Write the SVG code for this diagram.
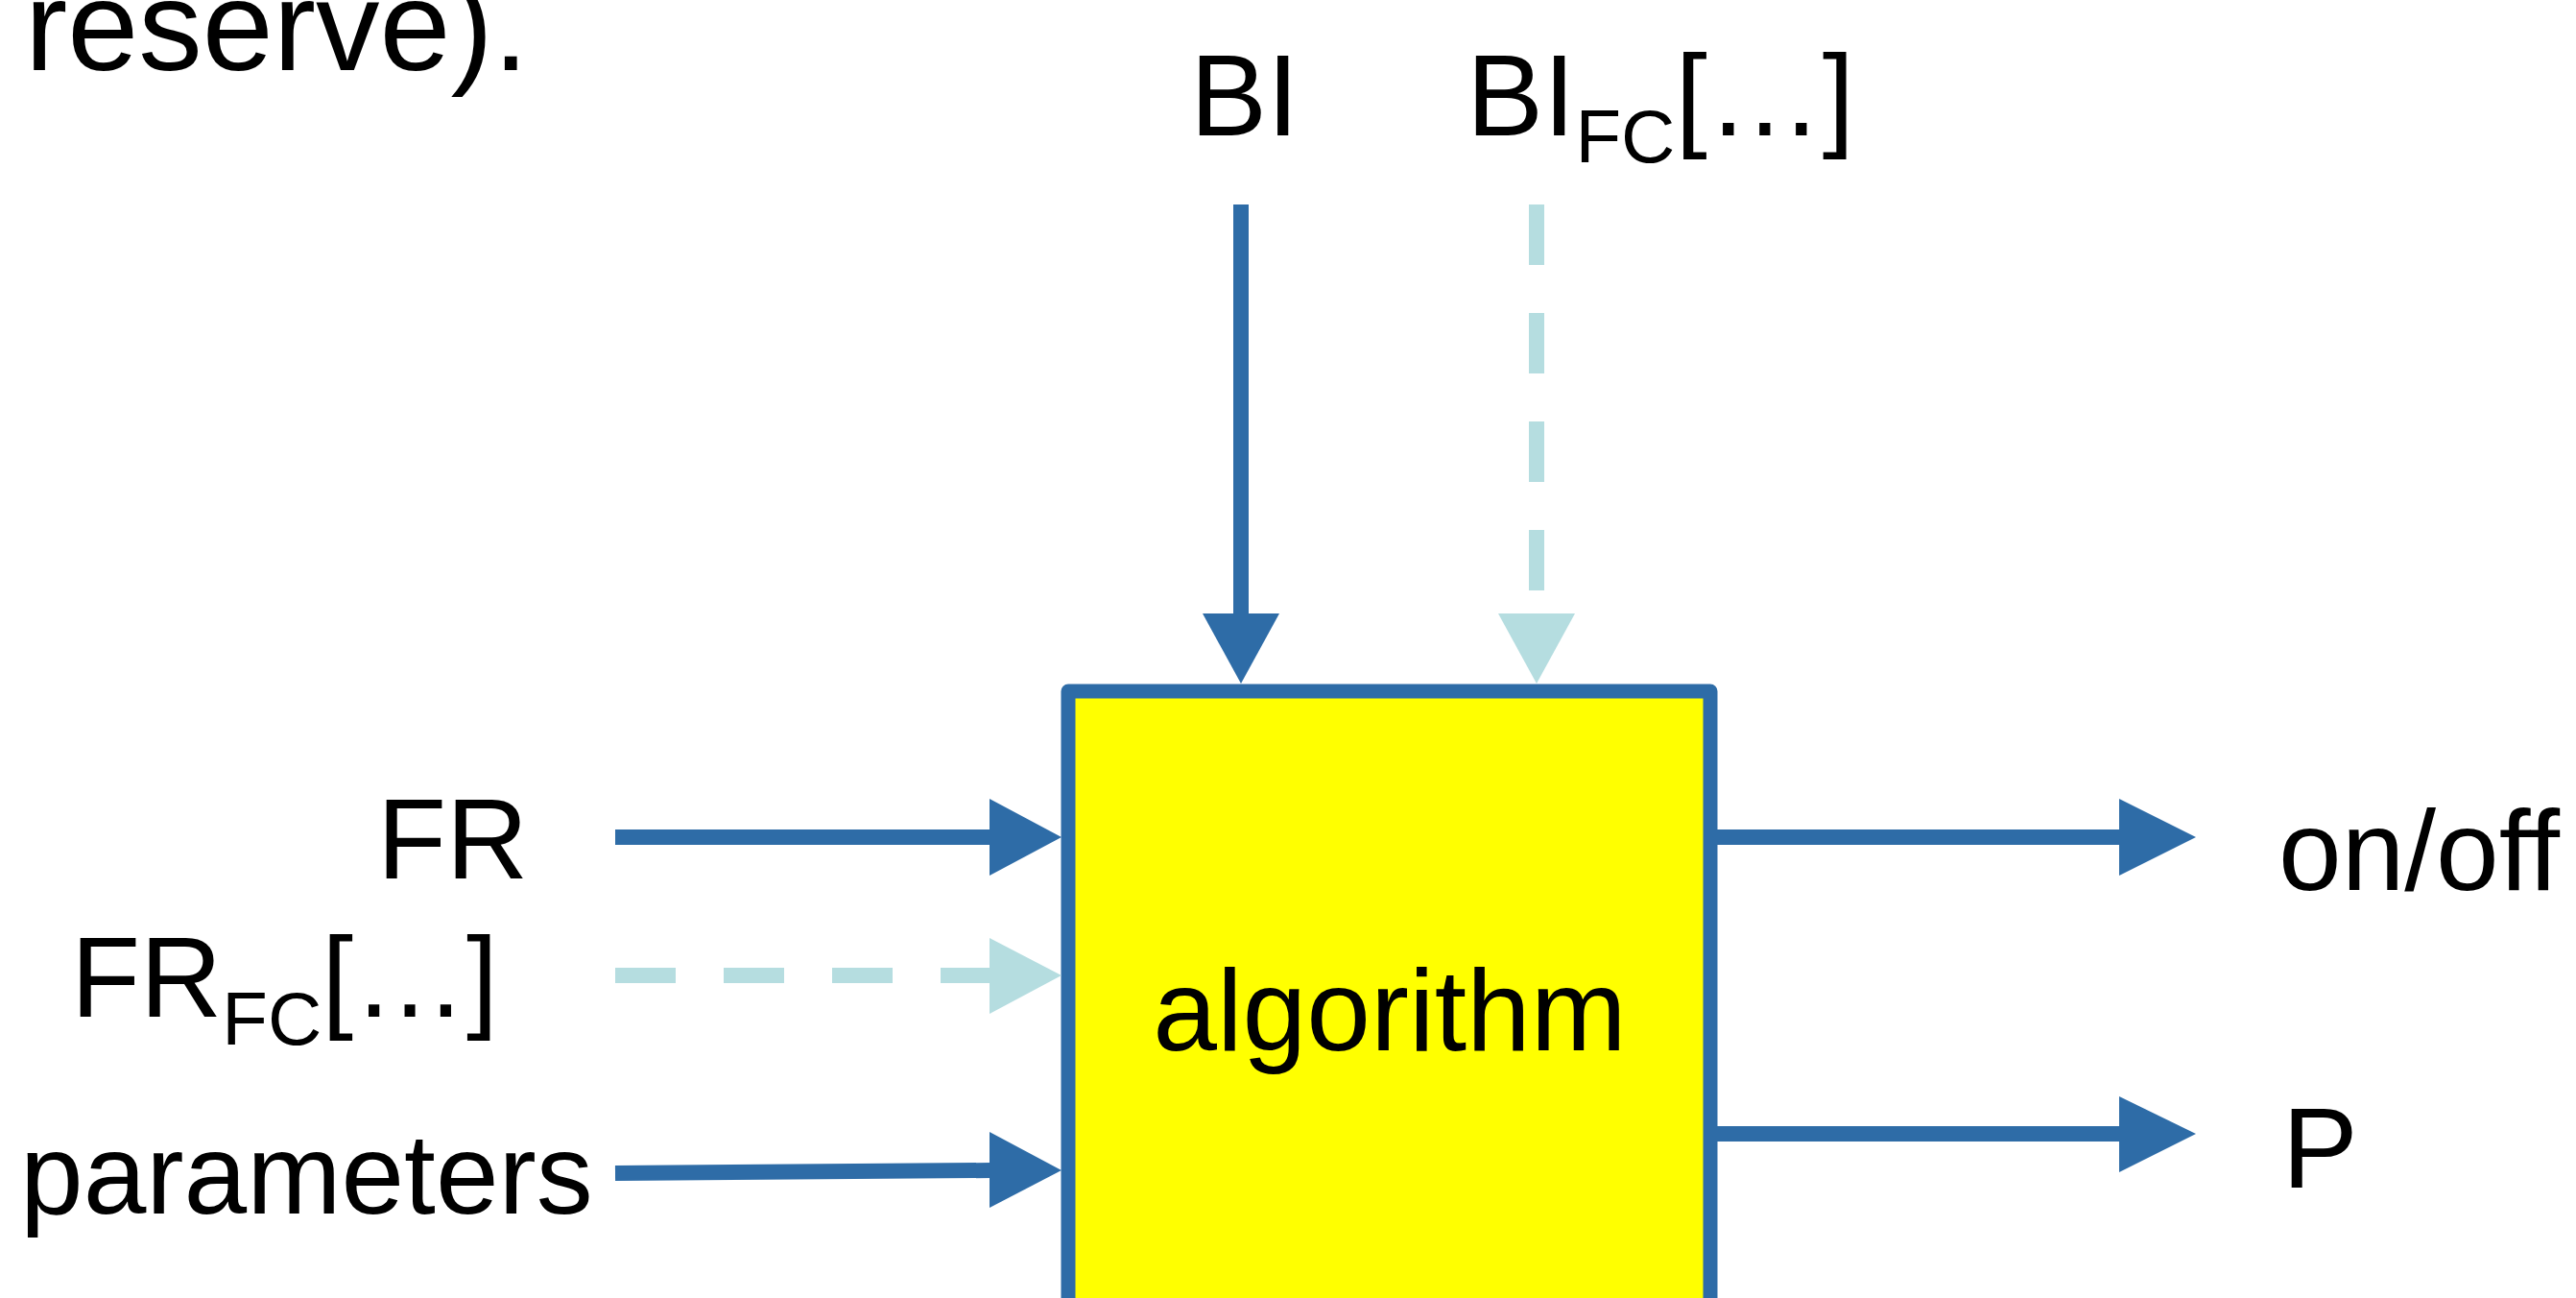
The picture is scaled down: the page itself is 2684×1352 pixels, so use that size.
<svg xmlns="http://www.w3.org/2000/svg" width="2684" height="1352" viewBox="0 0 2684 1352">
  <style>
    .lbl { font-family: "Liberation Sans", Arial, sans-serif; font-size: 118px; fill: #000; }
    .sub { font-size: 78px; }
    .solid { stroke: #2E6CA7; stroke-width: 16; fill: none; }
    .dash { stroke: #B5DDE0; stroke-width: 16; fill: none; stroke-dasharray: 63 50; }
    .headS { fill: #2E6CA7; }
    .headD { fill: #B5DDE0; }
  </style>

  <rect width="2684" height="1352" fill="#fff"/>

  <!-- trailing fragment of body text -->
  <text class="lbl" x="26" y="73" style="font-size:133px">reserve).</text>

  <!-- processing block -->
  <g id="algorithm">
    <rect x="1113" y="720" width="669" height="700" fill="#FFFF00" stroke="#2E6CA7" stroke-width="15" stroke-linejoin="round"/>
    <text class="lbl" x="1448" y="1094" text-anchor="middle" style="font-size:120px">algorithm</text>
  </g>

  <!-- inputs and outputs -->
  <g id="in-BI"><text class="lbl" x="1240" y="141" style="font-size:120px">BI</text></g>
  <g id="in-BI-FC"><text class="lbl" x="1528" y="141" style="font-size:120px">BI<tspan class="sub" dy="28">FC</tspan><tspan dy="-28">[…]</tspan></text></g>
  <g id="in-FR"><text class="lbl" x="393" y="915">FR</text></g>
  <g id="in-FR-FC"><text class="lbl" x="74" y="1059">FR<tspan class="sub" dy="29">FC</tspan><tspan dy="-29">[…]</tspan></text></g>
  <g id="in-parameters"><text class="lbl" x="21" y="1264">parameters</text></g>
  <g id="out-onoff"><text class="lbl" x="2374" y="927">on/off</text></g>
  <g id="out-P"><text class="lbl" x="2378" y="1237">P</text></g>

  <!-- connectors -->
  <g id="connectors">
    <line class="solid" x1="1293" y1="213" x2="1293" y2="641"/>
    <polygon class="headS" points="1253,639 1333,639 1293,712"/>

    <line class="dash" x1="1601" y1="213" x2="1601" y2="618"/>
    <polygon class="headD" points="1561,639 1641,639 1601,712"/>

    <line class="solid" x1="641" y1="872" x2="1033" y2="872"/>
    <polygon class="headS" points="1031,832 1031,912 1106,872"/>

    <line class="dash" x1="641" y1="1016" x2="1033" y2="1016"/>
    <polygon class="headD" points="1031,977 1031,1056 1106,1016"/>

    <line class="solid" x1="641" y1="1222" x2="1033" y2="1219"/>
    <polygon class="headS" points="1031,1179 1031,1258 1106,1219"/>

    <line class="solid" x1="1782" y1="872" x2="2210" y2="872"/>
    <polygon class="headS" points="2208,832 2208,912 2288,872"/>

    <line class="solid" x1="1782" y1="1181" x2="2210" y2="1181"/>
    <polygon class="headS" points="2208,1142 2208,1221 2288,1181"/>
  </g>
</svg>
